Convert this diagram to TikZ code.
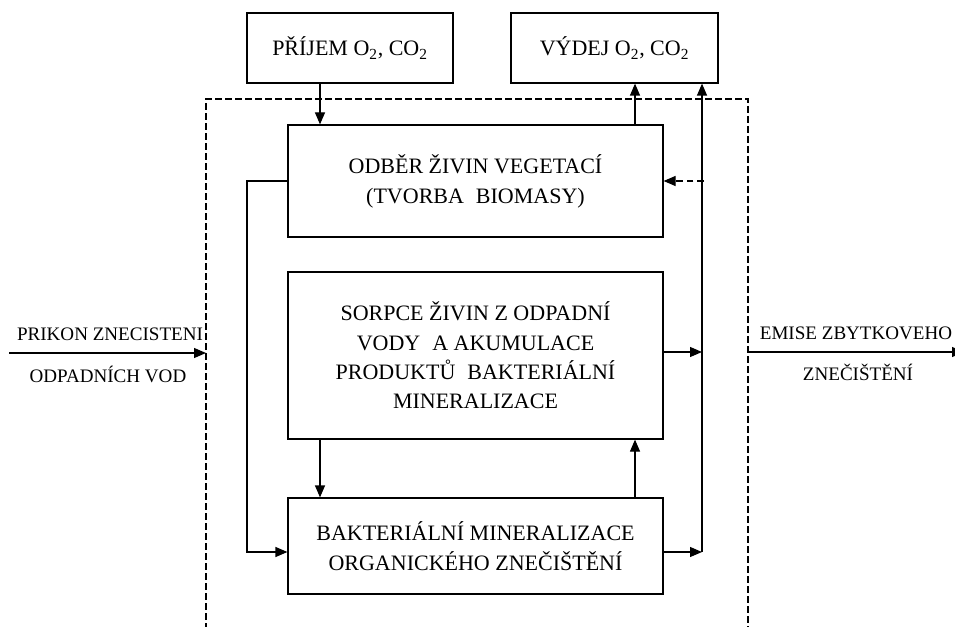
\documentclass[tikz,border=0pt]{standalone}
\usepackage{fontspec}
\setmainfont{Liberation Serif}
\usetikzlibrary{arrows.meta}
\begin{document}
\begin{tikzpicture}[x=0.75pt,y=-0.75pt,
  box/.style={draw,line width=0.9pt,inner sep=0pt,align=center,font=\fontsize{16.5}{22}\selectfont},
  lbl/.style={anchor=base,font=\fontsize{14.3}{18}\selectfont,inner sep=0pt},
  conn/.style={line width=0.9pt},
  arr/.style={conn,-{Triangle[length=9pt,width=7.5pt]}},
  frame/.style={line width=0.9pt,dash pattern=on 5pt off 2.5pt}]
\useasboundingbox (0,0) rectangle (955,627);

% boxes
\node[box,minimum width=154.5pt,minimum height=52.5pt] (prijem) at (350,48) {PŘÍJEM O\textsubscript{2}, CO\textsubscript{2}};
\node[box,minimum width=155.25pt,minimum height=52.5pt] (vydej) at (614.5,48) {VÝDEJ O\textsubscript{2}, CO\textsubscript{2}};
\node[box,minimum width=281.25pt,minimum height=84pt] (odber) at (475.5,181) {ODBĚR ŽIVIN VEGETACÍ\\(TVORBA\hspace{9pt}BIOMASY)\\[-19pt]\mbox{}};
\node[box,minimum width=281.25pt,minimum height=125.25pt] (sorpce) at (475.5,355.5) {SORPCE ŽIVIN Z ODPADNÍ\\VODY\hspace{9pt}A AKUMULACE\\PRODUKTŮ\hspace{9pt}BAKTERIÁLNÍ\\MINERALIZACE};
\node[box,minimum width=281.25pt,minimum height=72pt] (bakt) at (475.5,546) {BAKTERIÁLNÍ MINERALIZACE\\ORGANICKÉHO ZNEČIŠTĚNÍ};

% side labels
\node[lbl] (l1) at (110,340) {PRIKON ZNECISTENI};
\node[lbl] (l2) at (108,382) {ODPADNÍCH VOD};
\node[lbl] (r1) at (856,339) {EMISE ZBYTKOVEHO};
\node[lbl] (r2) at (858,380) {ZNEČIŠTĚNÍ};

% helper coordinates
\coordinate (xa) at (320,0);
\coordinate (xb) at (635,0);
\coordinate (xc) at (702,0);
\coordinate (xl) at (247,0);
\coordinate (ya) at (0,552);
\coordinate (yb) at (0,352);
\coordinate (fl) at (206,99);
\coordinate (fr) at (748,99);
\coordinate (flb) at (206,640);
\coordinate (frb) at (748,640);
\coordinate (in) at (9,353);
\coordinate (out) at (964,352);

% dashed frame
\draw[frame] (flb) -- (fl) -- (fr) -- (frb);

% connectors
\draw[arr] (prijem.south -| xa) -- (odber.north -| xa);
\draw[arr] (odber.north -| xb) -- (vydej.south -| xb);
\draw[arr] (xc |- ya) -- (vydej.south -| xc);
\draw[arr,dash pattern=on 5pt off 3pt] ([xshift=1.5pt]xc |- odber.east) -- (odber.east);
\draw[arr] (sorpce.east |- yb) -- (xc |- yb);
\draw[arr] (bakt.east |- ya) -- (xc |- ya);
\draw[arr] (odber.west) -- (xl |- odber.west) -- (xl |- ya) -- (bakt.west |- ya);
\draw[arr] (sorpce.south -| xa) -- (bakt.north -| xa);
\draw[arr] (bakt.north -| xb) -- (sorpce.south -| xb);
\draw[arr] (in) -- (in -| fl);
\draw[arr] (out -| fr) -- (out);
\end{tikzpicture}
\end{document}
